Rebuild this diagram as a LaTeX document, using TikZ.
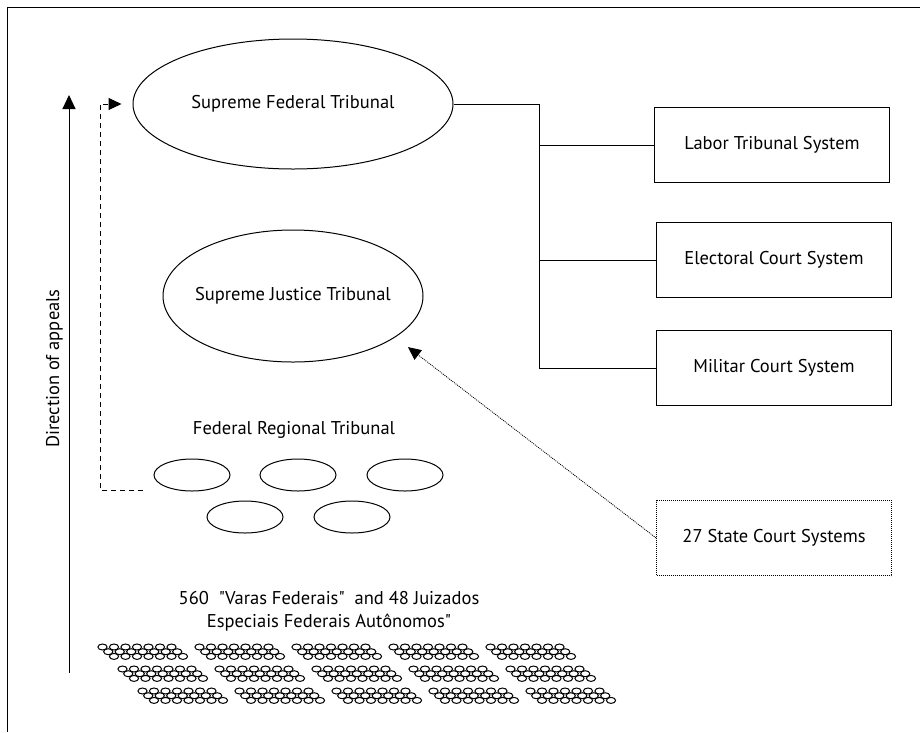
\documentclass[tikz,border=0pt]{standalone}
\usepackage{fontspec}
\setmainfont{PT Sans}
\usetikzlibrary{arrows.meta,shapes.geometric}
\tikzset{
    txt/.style={inner sep=0pt,font=\fontsize{18.5}{23}\selectfont},
    court/.style={draw,ellipse,line width=1pt,inner sep=0pt,font=\fontsize{18.5}{22}\selectfont},
    trf/.style={draw,ellipse,line width=1pt,inner sep=0pt,minimum width=76pt,minimum height=32pt},
    sysbox/.style={draw,rectangle,line width=1pt,minimum width=235pt,minimum height=75pt,font=\fontsize{18.5}{22}\selectfont},
    dotbox/.style={line width=0.8pt,dash pattern=on 1pt off 1pt},
    dashline/.style={line width=1pt,dash pattern=on 5pt off 4pt},
    dotline/.style={line width=0.8pt,dash pattern=on 1pt off 1pt},
    appeal/.style={-{Triangle[length=13pt,width=12pt]}},
    vara/.style={line width=1pt},
}
\begin{document}
\begin{tikzpicture}[x=1pt,y=-1pt]
    \useasboundingbox (0,0) rectangle (920,732);
    \draw[line width=1pt] (920,7) -- (7,7) -- (7,732);

    % direction of appeals
    \coordinate (abot) at (69,673);
    \coordinate (atop) at (69,95);
    \draw[line width=1pt,-{Triangle[length=14pt,width=13pt]}] (abot) -- (atop);
    \node[txt,rotate=90,anchor=base west] (dir) at (59,448) {Direction of appeals};

    % high courts
    \node[court,minimum width=320pt,minimum height=130pt] (sft) at (293,104) {\makebox[0pt]{Supreme Federal Tribunal}};
    \node[court,minimum width=260pt,minimum height=132pt] (sjt) at (293,296) {\makebox[0pt]{Supreme Justice Tribunal}};

    % federal regional tribunals
    \node[txt] (trflab) at (294,430) {Federal Regional Tribunal};
    \node[trf] (t1) at (192,475) {};
    \node[trf] (t2) at (298,475) {};
    \node[trf] (t3) at (405,475) {};
    \node[trf] (t4) at (245,517) {};
    \node[trf] (t5) at (352,517) {};

    \coordinate (dstart) at (143,490);
    \coordinate (dcorner) at (100,104);
    \draw[dashline,appeal] (dstart) -| (dcorner) -- ([xshift=-11pt]sft.west);

    % special systems
    \node[sysbox] (labor) at (772,145) {Labor Tribunal System};
    \node[sysbox] (elect) at (774,260) {Electoral Court System};
    \node[sysbox] (milit) at (774,368) {Militar Court System};
    \node[sysbox,dotbox] (state) at (774,538) {27 State Court Systems};

    \coordinate (bus) at (539,368);
    \draw[line width=1pt] (sft.east) -| (bus) -- (milit.west);
    \draw[line width=1pt] (labor.west) -- (labor.west -| bus);
    \draw[line width=1pt] (elect.west) -- (elect.west -| bus);

    \draw[dotline,appeal,shorten >=16pt] (state.west) -- (sjt.-22);

    % varas federais
    \node[txt,align=center] (varas) at (329,611) {560~~\textquotedbl Varas Federais\textquotedbl~~and 48 Juizados\\Especiais Federais Autônomos\textquotedbl};
    \foreach \r in {0,1,2}
        \foreach \c in {0,...,4}
            \foreach \s in {0,1,2}
                \foreach \k in {0,...,6}
                    \draw[vara] (102.5+20*\r+97*\c+5.75*\s+11.5*\k, 647+22*\r+4.7*\s) ellipse (4.6pt and 3pt);
\end{tikzpicture}
\end{document}
